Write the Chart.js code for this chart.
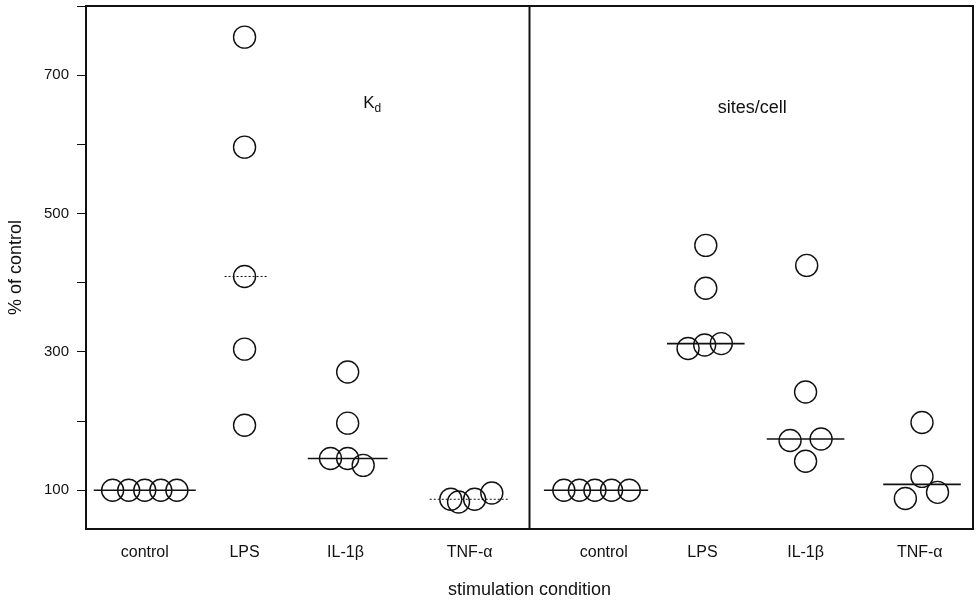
<!DOCTYPE html>
<html>
<head>
<meta charset="utf-8">
<script src="https://cdn.jsdelivr.net/npm/chart.js@4.4.1/dist/chart.umd.min.js"></script>
<style>
  html, body { margin: 0; padding: 0; background: #fff; }
  #wrap { width: 976px; height: 601px; }
</style>
</head>
<body>
<div id="wrap"><canvas id="chart"></canvas></div>
<script>
// conditions, placed along a 0-8 x scale: 0-4 is the Kd panel, 4-8 the sites/cell panel
var conditions = ["control", "LPS", "IL-1\u03b2", "TNF-\u03b1"];
var kdPos = [0.53, 1.43, 2.34, 3.46];
var sitesPos = [4.67, 5.56, 6.49, 7.52];

// Kd, % of control
var kdControl = [100, 100, 100, 100, 100];
var kdLPS = [755, 596, 409, 304, 194];
var kdIL1b = [271, 197, 146, 146, 136];
var kdTNFa = [87, 83, 87, 96];

// binding sites per cell, % of control
var sitesControl = [100, 100, 100, 100, 100];
var sitesLPS = [454, 392, 305, 310, 312];
var sitesIL1b = [425, 242, 172, 174, 142];
var sitesTNFa = [198, 120, 97, 88];

var yTicks = [100, 200, 300, 400, 500, 600, 700, 800];

// sideways spread of the circles so overlapping ones stay readable
var kdSpread = [[-0.29, -0.145, 0, 0.145, 0.29], [0, 0, 0, 0, 0], [0.02, 0.02, -0.135, 0.02, 0.16], [-0.17, -0.1, 0.045, 0.2]];
var sitesSpread = [[-0.36, -0.22, -0.08, 0.07, 0.23], [0.03, 0.03, -0.13, 0.02, 0.17], [0.01, 0, -0.14, 0.14, 0], [0.02, 0.02, 0.16, -0.13]];

// median bars: shift from label, half width, dotted?
var kdBars = [[0, 0.46, false], [0.01, 0.19, true], [0.02, 0.36, false], [0, 0.36, true]];
var sitesBars = [[-0.07, 0.47, false], [0.03, 0.35, false], [0, 0.35, false], [0.02, 0.35, false]];

function median(a) {
  var s = a.slice().sort(function(p, q) { return p - q; });
  var m = Math.floor(s.length / 2);
  return s.length % 2 ? s[m] : (s[m - 1] + s[m]) / 2;
}

var datasets = [];
function addPanel(groups, pos, spread, bars) {
  groups.forEach(function(vals, g) {
    datasets.push({
      data: vals.map(function(v, i) { return { x: pos[g] + spread[g][i], y: v }; }),
      pointRadius: 11,
      pointBorderWidth: 1.4,
      pointBorderColor: '#111',
      pointBackgroundColor: 'rgba(0,0,0,0)',
      showLine: false,
      order: 1
    });
    var m = median(vals), b = bars[g], c = pos[g] + b[0];
    datasets.push({
      data: [{ x: c - b[1], y: m }, { x: c + b[1], y: m }],
      showLine: true,
      pointRadius: 0,
      borderColor: '#111',
      borderWidth: b[2] ? 1 : 1.6,
      borderDash: b[2] ? [2, 2] : [],
      order: 0
    });
  });
}
addPanel([kdControl, kdLPS, kdIL1b, kdTNFa], kdPos, kdSpread, kdBars);
addPanel([sitesControl, sitesLPS, sitesIL1b, sitesTNFa], sitesPos, sitesSpread, sitesBars);

var font = 'Liberation Sans, Arial, Helvetica, sans-serif';

// fixed axis boxes, no extra room for the end labels
function noPad(s) {
  s.paddingTop = 0; s.paddingBottom = 0; s.paddingLeft = 0; s.paddingRight = 0;
}

// outer frame, panel divider and panel captions
var framePlugin = {
  id: 'frame',
  afterDraw: function(chart) {
    var ctx = chart.ctx, a = chart.chartArea;
    var xs = chart.scales.x, ys = chart.scales.y;
    ctx.save();
    ctx.strokeStyle = '#111';
    ctx.lineWidth = 2;
    ctx.beginPath();
    ctx.moveTo(a.left, a.top);
    ctx.lineTo(a.right, a.top);
    ctx.lineTo(a.right, a.bottom);
    var mid = xs.getPixelForValue(4);
    ctx.moveTo(mid, a.top);
    ctx.lineTo(mid, a.bottom);
    ctx.stroke();

    ctx.fillStyle = '#111';
    ctx.textBaseline = 'middle';
    ctx.textAlign = 'left';
    var kx = xs.getPixelForValue(2.5), ky = ys.getPixelForValue(660);
    ctx.font = '17px ' + font;
    ctx.fillText('K', kx, ky);
    var kw = ctx.measureText('K').width;
    ctx.font = '12px ' + font;
    ctx.fillText('d', kx + kw, ky + 6);
    ctx.font = '18px ' + font;
    ctx.textAlign = 'center';
    ctx.fillText('sites/cell', xs.getPixelForValue(6.01), ys.getPixelForValue(652));
    ctx.restore();
  }
};

new Chart(document.getElementById('chart'), {
  type: 'scatter',
  data: { datasets: datasets },
  options: {
    responsive: true,
    maintainAspectRatio: false,
    animation: false,
    events: [],
    layout: { autoPadding: false, padding: { top: 6, right: 3, left: 0, bottom: 0 } },
    plugins: { legend: { display: false }, tooltip: { enabled: false } },
    scales: {
      x: {
        type: 'linear',
        min: 0,
        max: 8,
        afterBuildTicks: function(s) {
          s.ticks = kdPos.concat(sitesPos).map(function(v) { return { value: v }; });
        },
        afterFit: function(s) { s.height = 72; noPad(s); },
        ticks: {
          autoSkip: false,
          maxRotation: 0,
          padding: 14,
          color: '#111',
          font: { family: font, size: 16 },
          callback: function(v, i) { return conditions[i % 4]; }
        },
        grid: { drawOnChartArea: false, drawTicks: false },
        border: { color: '#111', width: 2 },
        title: {
          display: true,
          text: 'stimulation condition',
          color: '#111',
          font: { family: font, size: 18 },
          padding: { top: 0, bottom: 0 }
        }
      },
      y: {
        min: 44,
        max: 800,
        afterBuildTicks: function(s) {
          s.ticks = yTicks.map(function(v) { return { value: v }; });
        },
        afterFit: function(s) { s.width = 86; noPad(s); },
        ticks: {
          padding: 8,
          color: '#111',
          font: { family: font, size: 15 },
          callback: function(v) { return v % 200 === 100 ? v : ''; }
        },
        grid: { drawOnChartArea: false, tickLength: 9, color: '#111' },
        border: { color: '#111', width: 2 },
        title: {
          display: true,
          text: '% of control',
          color: '#111',
          font: { family: font, size: 18 },
          padding: { top: 5, bottom: 0 }
        }
      }
    }
  },
  plugins: [framePlugin]
});
</script>
</body>
</html>
